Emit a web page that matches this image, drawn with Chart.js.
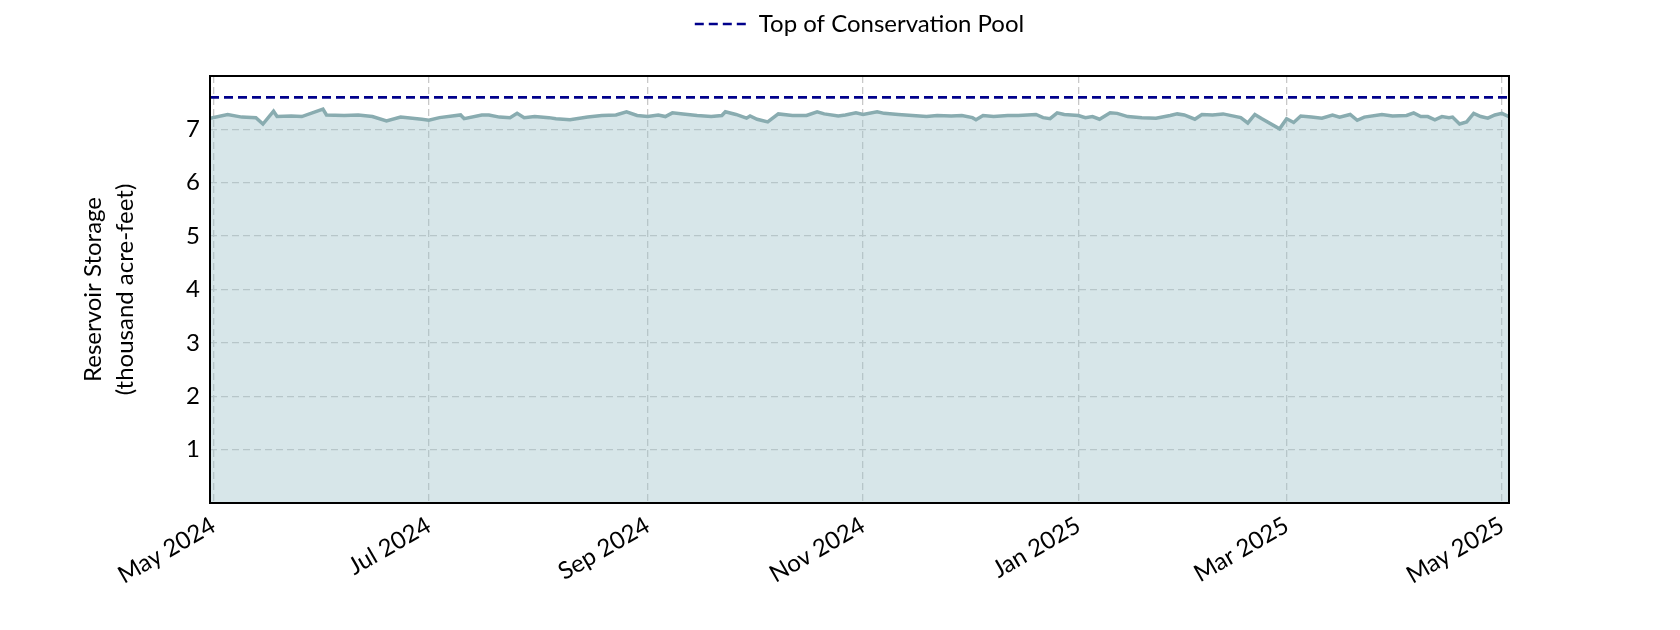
<!DOCTYPE html>
<html>
<head>
<meta charset="utf-8">
<script src="https://cdn.jsdelivr.net/npm/chart.js@4.4.1/dist/chart.umd.min.js"></script>
<style>
  html, body { margin: 0; padding: 0; background: #fff; }
</style>
</head>
<body>
<canvas id="myChart" width="1680" height="630"></canvas>
<script>
// storage readings (thousand acre-feet)
const dates = [
  '2024-04-30', '2024-05-05', '2024-05-09', '2024-05-13', '2024-05-15', '2024-05-18', '2024-05-19', '2024-05-23',
  '2024-05-26', '2024-06-01', '2024-06-02', '2024-06-07', '2024-06-11', '2024-06-15', '2024-06-19', '2024-06-23',
  '2024-06-29', '2024-07-01', '2024-07-04', '2024-07-10', '2024-07-11', '2024-07-16', '2024-07-18', '2024-07-21',
  '2024-07-24', '2024-07-26', '2024-07-28', '2024-07-31', '2024-08-04', '2024-08-06', '2024-08-10', '2024-08-15',
  '2024-08-19', '2024-08-23', '2024-08-26', '2024-08-29', '2024-09-01', '2024-09-04', '2024-09-06', '2024-09-08',
  '2024-09-11', '2024-09-15', '2024-09-19', '2024-09-22', '2024-09-23', '2024-09-26', '2024-09-29', '2024-09-30',
  '2024-10-02', '2024-10-05', '2024-10-08', '2024-10-12', '2024-10-16', '2024-10-19', '2024-10-21', '2024-10-25',
  '2024-10-27', '2024-10-30', '2024-11-01', '2024-11-05', '2024-11-07', '2024-11-11', '2024-11-15', '2024-11-19',
  '2024-11-22', '2024-11-26', '2024-11-29', '2024-12-02', '2024-12-03', '2024-12-05', '2024-12-08', '2024-12-12',
  '2024-12-15', '2024-12-20', '2024-12-22', '2024-12-24', '2024-12-26', '2024-12-28', '2025-01-01', '2025-01-03',
  '2025-01-05', '2025-01-07', '2025-01-10', '2025-01-12', '2025-01-15', '2025-01-19', '2025-01-23', '2025-01-27',
  '2025-01-29', '2025-01-31', '2025-02-03', '2025-02-05', '2025-02-08', '2025-02-11', '2025-02-16', '2025-02-18',
  '2025-02-20', '2025-02-22', '2025-02-27', '2025-03-01', '2025-03-03', '2025-03-05', '2025-03-08', '2025-03-11',
  '2025-03-14', '2025-03-16', '2025-03-19', '2025-03-21', '2025-03-23', '2025-03-28', '2025-03-31', '2025-04-04',
  '2025-04-06', '2025-04-08', '2025-04-10', '2025-04-12', '2025-04-14', '2025-04-16', '2025-04-17', '2025-04-19',
  '2025-04-21', '2025-04-23', '2025-04-25', '2025-04-27', '2025-04-29', '2025-05-01', '2025-05-03'
];
const storage = [
  7.21, 7.28, 7.23, 7.22, 7.10, 7.34, 7.24, 7.25,
  7.24, 7.38, 7.27, 7.26, 7.27, 7.24, 7.16, 7.23,
  7.19, 7.17, 7.22, 7.27, 7.20, 7.27, 7.27, 7.23,
  7.22, 7.30, 7.22, 7.24, 7.22, 7.20, 7.18, 7.23,
  7.26, 7.27, 7.33, 7.26, 7.24, 7.27, 7.24, 7.31,
  7.29, 7.26, 7.24, 7.26, 7.33, 7.28, 7.21, 7.25,
  7.19, 7.14, 7.29, 7.26, 7.26, 7.33, 7.29, 7.25,
  7.27, 7.31, 7.28, 7.33, 7.30, 7.28, 7.26, 7.24,
  7.26, 7.25, 7.26, 7.22, 7.18, 7.26, 7.24, 7.26,
  7.26, 7.28, 7.22, 7.20, 7.31, 7.28, 7.26, 7.22,
  7.24, 7.19, 7.31, 7.30, 7.24, 7.22, 7.21, 7.26,
  7.29, 7.27, 7.19, 7.28, 7.27, 7.29, 7.22, 7.12,
  7.28, 7.20, 7.01, 7.20, 7.13, 7.25, 7.23, 7.21,
  7.27, 7.23, 7.28, 7.17, 7.23, 7.28, 7.25, 7.26,
  7.31, 7.24, 7.24, 7.18, 7.24, 7.22, 7.23, 7.10,
  7.14, 7.30, 7.24, 7.21, 7.27, 7.30, 7.24
];
const poolTop = 7.6;
const yTicks = [1, 2, 3, 4, 5, 6, 7];
const xTicks = ['2024-05-01', '2024-07-01', '2024-09-01', '2024-11-01', '2025-01-01', '2025-03-01', '2025-05-01'];
const monthNames = ['Jan', 'Feb', 'Mar', 'Apr', 'May', 'Jun', 'Jul', 'Aug', 'Sep', 'Oct', 'Nov', 'Dec'];

// no date adapter offline, so x is "days since 1 May 2024"
const day0 = Date.UTC(2024, 4, 1);
function toDay(s) {
    let p = s.split('-');
    return (Date.UTC(+p[0], p[1] - 1, +p[2]) - day0) / 86400000;
}
function dayLabel(d) {
    let dt = new Date(day0 + d * 86400000);
    return monthNames[dt.getUTCMonth()] + ' ' + dt.getUTCFullYear();
}

const firstDay = toDay(dates[0]);
const lastDay = toDay(dates[dates.length - 1]);
const font = 'Lato';
const poolDash = [9, 5];

var frame = {
    id: 'frame',
    afterDatasetsDraw(chart) {
        let { ctx, chartArea: a } = chart;
        ctx.save();
        ctx.strokeStyle = '#000';
        ctx.lineWidth = 2;
        ctx.strokeRect(a.left, a.top, a.right - a.left, a.bottom - a.top);
        ctx.restore();
    }
};

var legendGap = {
    id: 'legendGap',
    beforeInit(chart) {
        let fit = chart.legend.fit;
        chart.legend.fit = function () {
            fit.bind(chart.legend)();
            this.height += 30;
        };
    }
};

var gridStyle = { color: '#c8c8c8', lineWidth: 1.3, drawTicks: false };

var ctx = document.getElementById('myChart');
var storageChart = new Chart(ctx, {
    type: 'line',
    data: {
        datasets: [{
            label: 'Top of Conservation Pool',
            data: [{ x: firstDay, y: poolTop }, { x: lastDay, y: poolTop }],
            borderColor: '#00008b',
            backgroundColor: '#00008b',
            borderWidth: 2.6,
            borderDash: poolDash,
            pointRadius: 0,
            fill: false
        },
        {
            label: 'Storage',
            data: dates.map((d, i) => ({ x: toDay(d), y: storage[i] })),
            borderColor: 'rgb(137, 172, 176)',
            backgroundColor: 'rgba(160, 196, 202, 0.42)',
            borderWidth: 3.5,
            pointRadius: 0,
            tension: 0,
            fill: 'origin'
        }]
    },
    options: {
        responsive: false,
        animation: false,
        layout: { padding: { top: 2, right: 171, left: 0, bottom: 0 } },
        plugins: {
            legend: {
                position: 'top',
                fullSize: false,
                labels: {
                    usePointStyle: true,
                    pointStyle: 'line',
                    pointStyleWidth: 52,
                    boxHeight: 24,
                    padding: 10,
                    color: '#000',
                    font: { family: font, size: 24 },
                    generateLabels: chart => Chart.defaults.plugins.legend.labels.generateLabels(chart)
                        .filter(item => item.text === 'Top of Conservation Pool')
                        .map(item => Object.assign(item, { lineDash: poolDash }))
                }
            },
            tooltip: { enabled: false }
        },
        scales: {
            x: {
                type: 'linear',
                min: firstDay,
                max: lastDay,
                afterBuildTicks: scale => { scale.ticks = xTicks.map(m => ({ value: toDay(m) })); },
                afterFit: scale => { scale.height = 127; },
                grid: gridStyle,
                border: { display: false, dash: [7, 4] },
                ticks: {
                    autoSkip: false,
                    minRotation: 30,
                    maxRotation: 30,
                    padding: 8,
                    color: '#000',
                    font: { family: font, size: 24 },
                    callback: v => dayLabel(v)
                }
            },
            y: {
                min: 0,
                max: 8,
                afterBuildTicks: scale => { scale.ticks = yTicks.map(v => ({ value: v })); },
                afterFit: scale => { scale.width = 210; },
                grid: gridStyle,
                border: { display: false, dash: [7, 4] },
                ticks: {
                    padding: 10,
                    color: '#000',
                    font: { family: font, size: 24 }
                },
                title: {
                    display: true,
                    text: ['Reservoir Storage', '(thousand acre-feet)'],
                    color: '#000',
                    font: { family: font, size: 24, lineHeight: 1.35 },
                    padding: { top: 77, bottom: 0 }
                }
            }
        }
    },
    plugins: [frame, legendGap]
});
</script>
</body>
</html>
